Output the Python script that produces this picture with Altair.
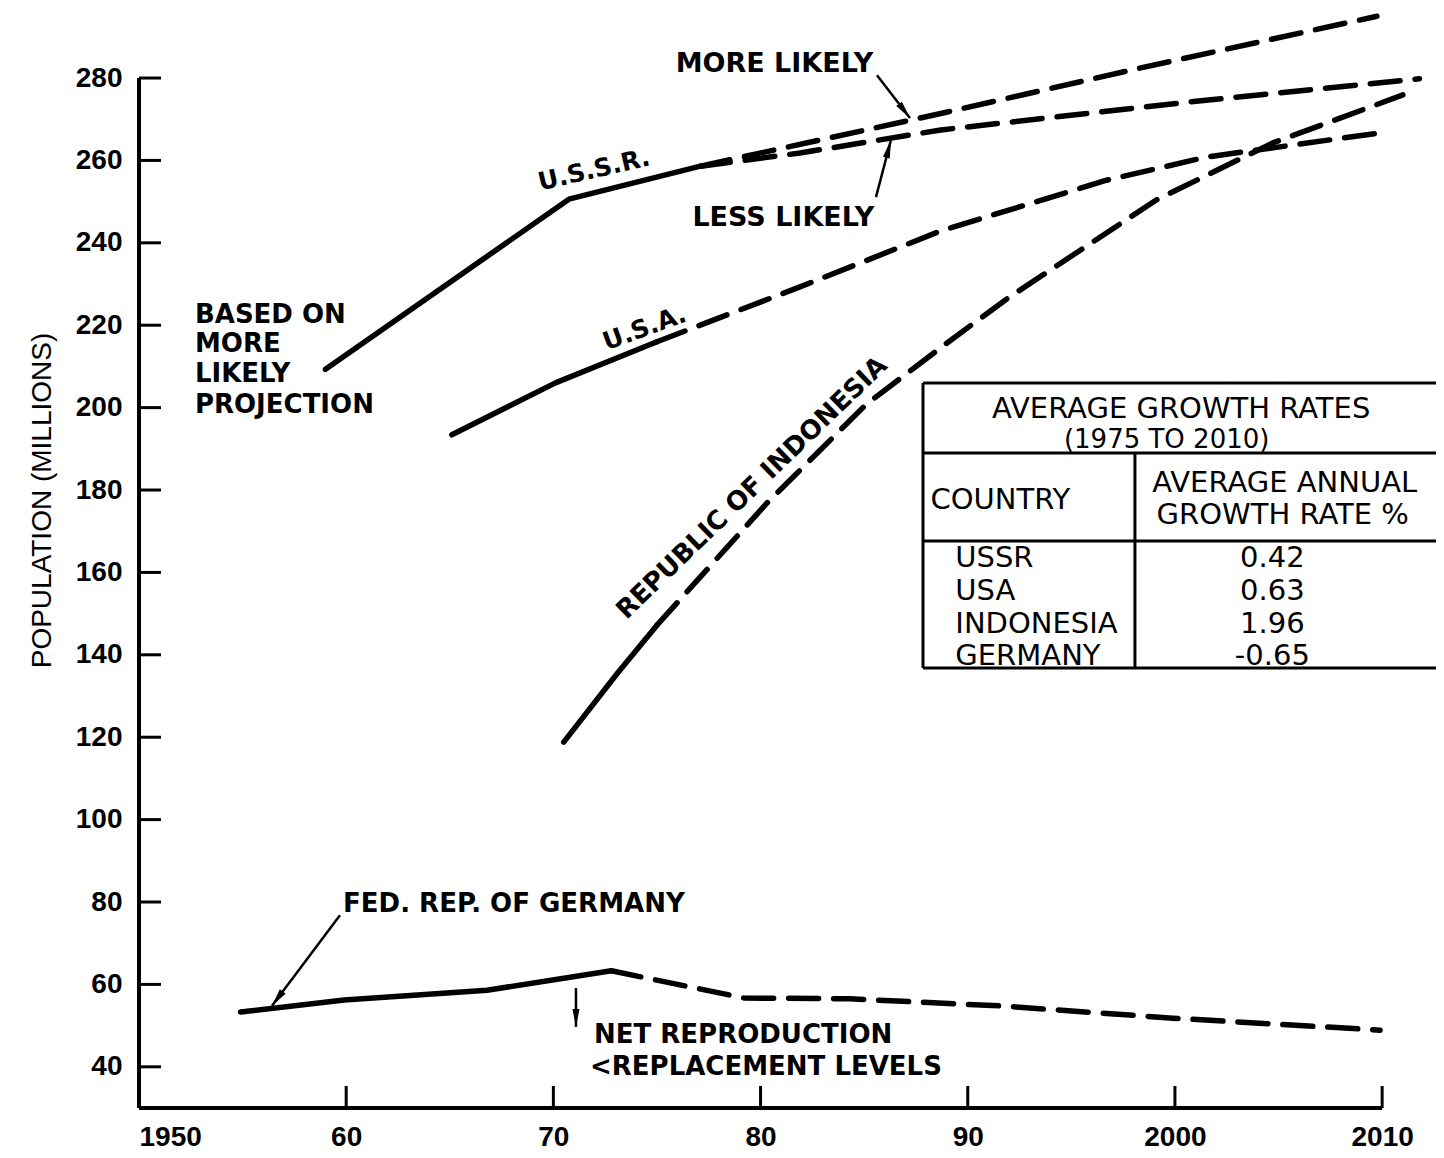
import altair as alt
import pandas as pd

# ---------------- data ----------------
ussr_hist_years = [1959.0, 1970.75, 1977.1]
ussr_hist_pop = [209.3, 250.6, 258.6]
ussr_more_years = [1977.1, 1988.7, 1998.3, 2009.75]
ussr_more_pop = [258.6, 271.4, 282.4, 295.0]
ussr_less_years = [1977.1, 1981.9, 1988.7, 2000.7, 2011.8]
ussr_less_pop = [258.6, 261.8, 267.4, 274.2, 279.8]

usa_hist_years = [1965.1, 1970.1, 1975.0]
usa_hist_pop = [193.4, 206.0, 216.0]
usa_proj_years = [1975.0, 1981.9, 1988.7, 1996.7, 2001.5, 2010.2]
usa_proj_pop = [216.0, 229.3, 242.9, 255.2, 260.8, 266.9]

indo_hist_years = [1970.5, 1973.1, 1975.0]
indo_hist_pop = [118.8, 135.6, 147.2]
indo_proj_years = [1975.0, 1980.3, 1985.1, 1989.0, 1992.0, 1999.1, 2004.7, 2011.0]
indo_proj_pop = [147.2, 176.8, 200.8, 215.7, 226.8, 250.4, 264.2, 275.9]

ger_hist_years = [1954.9, 1959.9, 1966.8, 1972.8]
ger_hist_pop = [53.3, 56.2, 58.6, 63.3]
ger_proj_years = [1972.8, 1979.2, 1984.3, 1991.5, 1999.9, 2009.9]
ger_proj_pop = [63.3, 56.7, 56.5, 54.8, 51.8, 48.9]

y_tick_values = [40, 60, 80, 100, 120, 140, 160, 180, 200, 220, 240, 260, 280]
x_tick_values = [1960, 1970, 1980, 1990, 2000, 2010]
x_label_values = [1950, 1960, 1970, 1980, 1990, 2000, 2010]

table_title = ["AVERAGE GROWTH RATES", "(1975 TO 2010)"]
table_head = ["COUNTRY", "AVERAGE ANNUAL", "GROWTH RATE %"]
table_countries = ["USSR", "USA", "INDONESIA", "GERMANY"]
table_rates = ["0.42", "0.63", "1.96", "-0.65"]

# ---------------- build tables ----------------
def seg(name, years, pops):
    return pd.DataFrame({"segment": name, "x": years, "y": pops})

hist_df = pd.concat([
    seg("ussr", ussr_hist_years, ussr_hist_pop),
    seg("usa", usa_hist_years, usa_hist_pop),
    seg("indo", indo_hist_years, indo_hist_pop),
    seg("ger", ger_hist_years, ger_hist_pop),
])
proj_df = pd.concat([
    seg("ussr_more", ussr_more_years, ussr_more_pop),
    seg("ussr_less", ussr_less_years, ussr_less_pop),
    seg("usa", usa_proj_years, usa_proj_pop),
    seg("indo", indo_proj_years, indo_proj_pop),
    seg("ger", ger_proj_years, ger_proj_pop),
])

XD = [1950, 2012.6]
YD = [30, 297]
W, H = 1297, 1100
LAB_FONT = "Liberation Sans, Arial, sans-serif"
ANN_FONT = "DejaVu Sans, Verdana, sans-serif"

xs = alt.Scale(domain=XD, nice=False, zero=False)
ys = alt.Scale(domain=YD, nice=False, zero=False)

X_AXIS = alt.Axis(
    values=x_label_values, format="d", domain=False, ticks=False, tickSize=0,
    grid=False, title=None, labelFont=LAB_FONT, labelFontSize=28,
    labelFontWeight="bold", labelColor="black", labelPadding=15,
    labelExpr="datum.value == 1950 || datum.value >= 2000 ? datum.label : substring(datum.label, 2)")
Y_AXIS = alt.Axis(
    values=y_tick_values, domain=False, ticks=False, tickSize=0, grid=False,
    title="POPULATION (MILLIONS)", titleFont=LAB_FONT, titleFontSize=28,
    titleFontWeight="normal", titleColor="black", titleAngle=270,
    titleX=-89, titleY=492, titleAlign="center", titleBaseline="alphabetic",
    labelFont=LAB_FONT, labelFontSize=28, labelFontWeight="bold",
    labelColor="black", labelPadding=17)


def X(field="x"):
    return alt.X(f"{field}:Q", scale=xs, axis=X_AXIS)


def Y(field="y"):
    return alt.Y(f"{field}:Q", scale=ys, axis=Y_AXIS)


hist = alt.Chart(hist_df).mark_line(
    color="black", strokeWidth=5.5, strokeCap="round", strokeJoin="round"
).encode(x=X(), y=Y(), detail="segment:N")

proj = alt.Chart(proj_df).mark_line(
    color="black", strokeWidth=5.5, strokeCap="round", strokeJoin="round",
    strokeDash=[30, 15]
).encode(x=X(), y=Y(), detail="segment:N")

# axis lines and inward ticks
axis_df = pd.DataFrame({"x": [XD[0], XD[0]], "x2": [XD[0], 2010],
                        "y": [YD[0], YD[0]], "y2": [280, YD[0]]})
axis_lines = alt.Chart(axis_df).mark_rule(color="black", strokeWidth=4).encode(
    x=X(), x2="x2:Q", y=Y(), y2="y2:Q")

ytick_df = pd.DataFrame({"y": y_tick_values})
yticks = alt.Chart(ytick_df).mark_rule(color="black", strokeWidth=3).encode(
    y=Y(), x=alt.value(0), x2=alt.value(22))

xtick_df = pd.DataFrame({"x": x_tick_values})
xticks = alt.Chart(xtick_df).mark_rule(color="black", strokeWidth=3).encode(
    x=X(), y=alt.value(H), y2=alt.value(H - 22))

# annotation texts
left_bold = pd.DataFrame({
    "t": ["BASED ON", "MORE", "LIKELY", "PROJECTION", "FED. REP. OF GERMANY",
          "NET REPRODUCTION", "<REPLACEMENT LEVELS"],
    "x": [1952.7, 1952.7, 1952.7, 1952.7, 1959.85, 1971.96, 1971.77],
    "y": [220.5, 213.5, 206.2, 198.7, 77.6, 45.8, 38.0],
})
t_left = alt.Chart(left_bold).mark_text(
    font=ANN_FONT, fontSize=26, fontWeight="bold", align="left",
    baseline="alphabetic", color="black").encode(x=X(), y=Y(), text="t:N")

center_bold = pd.DataFrame({
    "t": ["MORE LIKELY", "LESS LIKELY"],
    "x": [1980.67, 1981.1],
    "y": [281.5, 244.0],
})
t_center = alt.Chart(center_bold).mark_text(
    font=ANN_FONT, fontSize=27, fontWeight="bold", align="center",
    baseline="alphabetic", color="black").encode(x=X(), y=Y(), text="t:N")

rot = pd.DataFrame({
    "t": ["U.S.S.R.", "U.S.A.", "REPUBLIC OF INDONESIA"],
    "x": [1971.96, 1974.4, 1979.58],
    "y": [257.7, 219.3, 180.5],
    "a": [347, 340, 316],
    "s": [25, 25, 26],
})
t_rot = alt.Chart(rot).mark_text(
    font=ANN_FONT, fontWeight="bold", align="center", baseline="middle",
    color="black").encode(x=X(), y=Y(), text="t:N",
                          angle=alt.Angle("a:Q", scale=None),
                          size=alt.Size("s:Q", scale=None))

# arrows
arrow_df = pd.DataFrame({
    "x": [1985.62, 1985.57, 1959.70, 1971.09],
    "y": [280.7, 251.1, 76.8, 59.1],
    "x2": [1987.21, 1986.29, 1956.42, 1971.09],
    "y2": [270.3, 264.9, 54.8, 49.7],
    "a": [142.5, 14.7, 216.8, 180.0],
})
arrow_lines = alt.Chart(arrow_df).mark_rule(color="black", strokeWidth=2.5).encode(
    x=X(), y=Y(), x2="x2:Q", y2="y2:Q")
arrow_heads = alt.Chart(arrow_df).mark_point(
    shape="M0,0L-0.4,2L0.4,2Z", filled=True, color="black", opacity=1,
    size=320, strokeWidth=0).encode(
    x=X("x2"), y=Y("y2"), angle=alt.Angle("a:Q", scale=None))

# table
t_left_x, t_div_x, t_right_x = 1987.84, 1998.07, XD[1]
hl_df = pd.DataFrame({"y": [206.0, 189.0, 167.6, 136.8],
                      "x": [t_left_x] * 4, "x2": [t_right_x] * 4})
table_h = alt.Chart(hl_df).mark_rule(color="black", strokeWidth=3).encode(
    y=Y(), x=X(), x2="x2:Q")
vl_df = pd.DataFrame({"x": [t_left_x, t_div_x], "y": [206.0, 189.0], "y2": [136.8, 136.8]})
table_v = alt.Chart(vl_df).mark_rule(color="black", strokeWidth=3).encode(
    x=X(), y=Y(), y2="y2:Q")

tab_center = pd.DataFrame({
    "t": table_title + table_head[1:] + table_rates,
    "x": [2000.3, 1999.6, 2005.3, 2005.2] + [2004.7] * 4,
    "y": [197.6, 190.3, 179.5, 171.8, 161.3, 153.3, 145.3, 137.6],
    "s": [29, 26, 29, 29, 29, 29, 29, 29],
})
tab_c = alt.Chart(tab_center).mark_text(
    font=ANN_FONT, align="center", baseline="alphabetic",
    color="black").encode(x=X(), y=Y(), text="t:N",
                          size=alt.Size("s:Q", scale=None))
tab_left = pd.DataFrame({
    "t": [table_head[0]] + table_countries,
    "x": [1988.2] + [1989.4] * 4,
    "y": [175.4, 161.3, 153.3, 145.3, 137.6],
})
tab_l = alt.Chart(tab_left).mark_text(
    font=ANN_FONT, fontSize=29, align="left", baseline="alphabetic",
    color="black").encode(x=X(), y=Y(), text="t:N")

chart = alt.layer(
    hist, proj, axis_lines, yticks, xticks, t_left, t_center, t_rot,
    arrow_lines, arrow_heads, table_h, table_v, tab_c, tab_l
).properties(
    width=W, height=H,
    padding={"left": 131, "top": 0, "right": 0, "bottom": 42},
    autosize=alt.AutoSizeParams(type="none"),
    background="white",
).configure_view(stroke=None)

chart.save("out.html", embed_options={"renderer": "svg", "actions": False})
